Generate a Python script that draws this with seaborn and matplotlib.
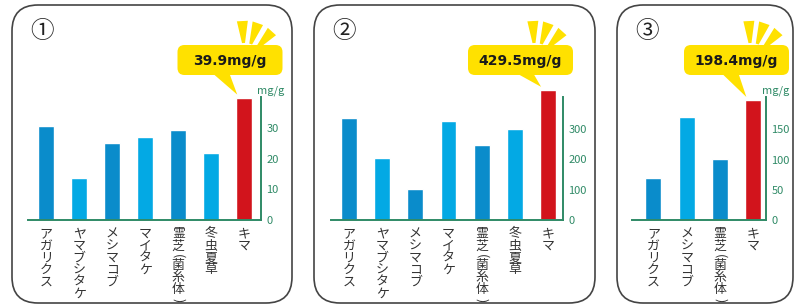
import numpy as np
import pandas as pd
import matplotlib
matplotlib.use("Agg")
import matplotlib.pyplot as plt
import seaborn as sns
from matplotlib.patches import FancyBboxPatch, Polygon

# data
cats1 = ['アガリクス', 'ヤマブシタケ', 'メシマコブ', 'マイタケ', '霊芝(菌糸体)', '冬虫夏草', 'キマ']
vals1 = [30.6, 13.6, 25.0, 27.0, 29.3, 21.7, 39.9]
cats2 = ['アガリクス', 'ヤマブシタケ', 'メシマコブ', 'マイタケ', '霊芝(菌糸体)', '冬虫夏草', 'キマ']
vals2 = [336, 205, 102, 327, 248, 300, 429.5]
cats3 = ['アガリクス', 'メシマコブ', '霊芝(菌糸体)', 'キマ']
vals3 = [69.5, 171, 101, 198.4]
ticks1 = [0, 10, 20, 30]
ticks2 = [0, 100, 200, 300]
ticks3 = [0, 50, 100, 150]
panel_nums = ['①', '②', '③']
unit = 'mg/g'

DARK = '#0a8ccb'
LIGHT = '#03a9e4'
RED = '#d2141c'
GREEN = '#2f8a66'
YELLOW = '#ffe100'
W, H = 795, 306
BASE = 220      # baseline, px from top
SPINE_TOP = 97  # top of the green value axis, px from top

sns.set_theme(style='white')
plt.rcParams['font.family'] = ['Noto Sans CJK JP', 'DejaVu Sans']

fig = plt.figure(figsize=(W / 100, H / 100), dpi=100)
over = fig.add_axes([0, 0, 1, 1], zorder=5)
over.set_xlim(0, W)
over.set_ylim(H, 0)
over.axis('off')
over.patch.set_alpha(0)


def vertical_label(ax, i, name):
    # stack the characters top to bottom; brackets are turned sideways and take a shorter step
    y = 14
    for ch in name:
        kw = dict(xy=(i, 0), xycoords=('data', 'axes fraction'), textcoords='offset points',
                  ha='center', va='center', color='#333333', annotation_clip=False)
        if ch in '()':
            y -= 2
            ax.annotate(ch, xytext=(0, -y * 0.72), fontsize=9, rotation=-90, **kw)
            y += 10
        else:
            ax.annotate(ch, xytext=(0, -y * 0.72), fontsize=9.3, **kw)
            y += 12


def panel(cats, vals, ticks, left, right, px_per_unit, xlim, show_unit):
    ax = fig.add_axes([left / W, (H - BASE) / H, (right - left) / W, 180 / H])
    ax.patch.set_alpha(0)
    colors = [DARK if i % 2 == 0 else LIGHT for i in range(len(cats) - 1)] + [RED]
    df = pd.DataFrame({'cat': cats, 'val': vals})
    sns.barplot(data=df, x='cat', y='val', hue='cat', palette=colors,
                width=0.48, legend=False, ax=ax, saturation=1)
    ax.set_xlim(*xlim)
    ax.set_ylim(0, 180 / px_per_unit)
    top_val = (BASE - SPINE_TOP) / px_per_unit
    for s in ['left', 'top']:
        ax.spines[s].set_visible(False)
    for s in ['bottom', 'right']:
        ax.spines[s].set_color(GREEN)
        ax.spines[s].set_linewidth(1.4)
    ax.spines['right'].set_bounds(0, top_val)
    ax.yaxis.tick_right()
    ax.set_yticks(ticks)
    ax.tick_params(axis='y', length=0, pad=4, labelcolor=GREEN, labelsize=8)
    ax.set_xticks(range(len(cats)))
    ax.set_xticklabels([])
    ax.tick_params(axis='x', length=0)
    for i, c in enumerate(cats):
        vertical_label(ax, i, c)
    ax.set_xlabel('')
    ax.set_ylabel('')
    if show_unit:
        ax.annotate(unit, xy=(1, top_val), xycoords=('axes fraction', 'data'),
                    xytext=(-3, 1), textcoords='offset points', ha='left', va='bottom',
                    fontsize=8, color=GREEN)
    return ax


def frame(x0, x1, num):
    over.add_patch(FancyBboxPatch((x0, 5), x1 - x0, 298, boxstyle='round,pad=0,rounding_size=26',
                                  fc='none', ec='#444444', lw=1.2))
    over.text(x0 + 30, 32, num, fontsize=17, ha='center', va='center', color='#222222')


def callout(ax, vals, cx, text):
    i = len(vals) - 1
    # tip of pointer just above the red bar's left edge
    dx, dy = ax.transData.transform((i - 0.24, vals[i]))
    tx, ty = dx + 1, H - dy - 3
    bw, bh = 105, 30
    x0, y0 = cx - bw / 2, 45
    over.add_patch(Polygon([(tx - 25, y0 + bh - 2), (tx - 8, y0 + bh - 2), (tx, ty)],
                           closed=True, fc=YELLOW, ec='none'))
    over.add_patch(FancyBboxPatch((x0, y0), bw, bh, boxstyle='round,pad=0,rounding_size=7',
                                  fc=YELLOW, ec='none'))
    over.text(cx, y0 + bh / 2 + 1, text, fontsize=10, fontweight='bold', ha='center', va='center',
              color='#1a1a1a', family='DejaVu Sans')
    # emphasis rays
    ox, oy = x0 + bw - 38, 62
    for ang in [-3, 19, 42]:
        a = np.radians(ang)
        ux, uy = np.sin(a), -np.cos(a)
        px, py = np.cos(a), np.sin(a)
        r1, r2, w1, w2 = 19, 41, 1.5, 5.5
        pts = [(ox + ux * r1 - px * w1, oy + uy * r1 - py * w1),
               (ox + ux * r1 + px * w1, oy + uy * r1 + py * w1),
               (ox + ux * r2 + px * w2, oy + uy * r2 + py * w2),
               (ox + ux * r2 - px * w2, oy + uy * r2 - py * w2)]
        over.add_patch(Polygon(pts, closed=True, fc=YELLOW, ec='none'))


ax1 = panel(cats1, vals1, ticks1, 28, 261, 3.067, (-0.55, 6.51), True)
ax2 = panel(cats2, vals2, ticks2, 331, 563, 0.303, (-0.54, 6.45), False)
ax3 = panel(cats3, vals3, ticks3, 632, 766, 0.605, (-0.64, 3.38), True)

frame(12, 292, panel_nums[0])
frame(314, 595, panel_nums[1])
frame(617, 793, panel_nums[2])

callout(ax1, vals1, 230, f'{vals1[-1]}{unit}')
callout(ax2, vals2, 520.5, f'{vals2[-1]}{unit}')
callout(ax3, vals3, 736.5, f'{vals3[-1]}{unit}')

fig.savefig('out.png', dpi=100)
